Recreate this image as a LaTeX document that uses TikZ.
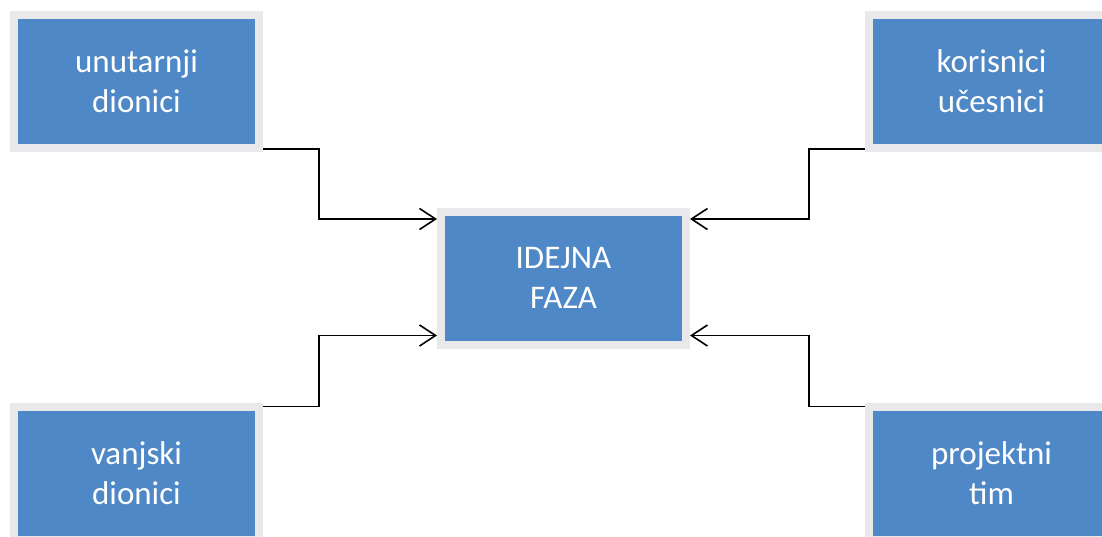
\documentclass[tikz,border=0pt]{standalone}
\usepackage{fontspec}
\setmainfont{Carlito}
\usetikzlibrary{arrows.meta}
\usetikzlibrary{positioning}
\definecolor{boxblue}{RGB}{79,136,198}
\definecolor{boxgray}{RGB}{233,233,235}

\begin{document}
\begin{tikzpicture}[x=1pt,y=-1pt,
        box/.style={fill=boxblue, draw=boxgray, line width=8pt,
            minimum width=245pt, minimum height=133pt,
            text=white, align=center,
            font=\fontsize{33}{40}\selectfont},
        flow/.style={line width=1.6pt,
            -{Straight Barb[length=16pt,width=21pt,line width=1.6pt]}}]
                \useasboundingbox (0,0) rectangle (1102,536);
                
                % Boxes
                \node[box] (idea) at (563.5,278) {IDEJNA\\FAZA};
                \node[box] (inner) at (136.5,81.5) {unutarnji\\dionici};
                \node[box] (outer) at (136.5,473.5) {vanjski\\dionici};
                \node[box] (users) at (991.5,81.5) {korisnici\\učesnici};
                \node[box] (team) at (991.5,473.5) {projektni\\tim};
                
                % Connectors
                \draw[flow] ([yshift=3pt]inner.south east) -- ++(56,0)
                    |- ([yshift=-11.5pt]idea.north west);
                \draw[flow] ([yshift=-3.5pt]outer.north east) -- ++(56,0)
                    |- ([yshift=13pt]idea.south west);
                \draw[flow] ([yshift=3pt]users.south west) -- ++(-56,0)
                    |- ([yshift=-11.5pt]idea.north east);
                \draw[flow] ([yshift=-3.5pt]team.north west) -- ++(-56,0)
                    |- ([yshift=13pt]idea.south east);
            \end{tikzpicture}
\end{document}
